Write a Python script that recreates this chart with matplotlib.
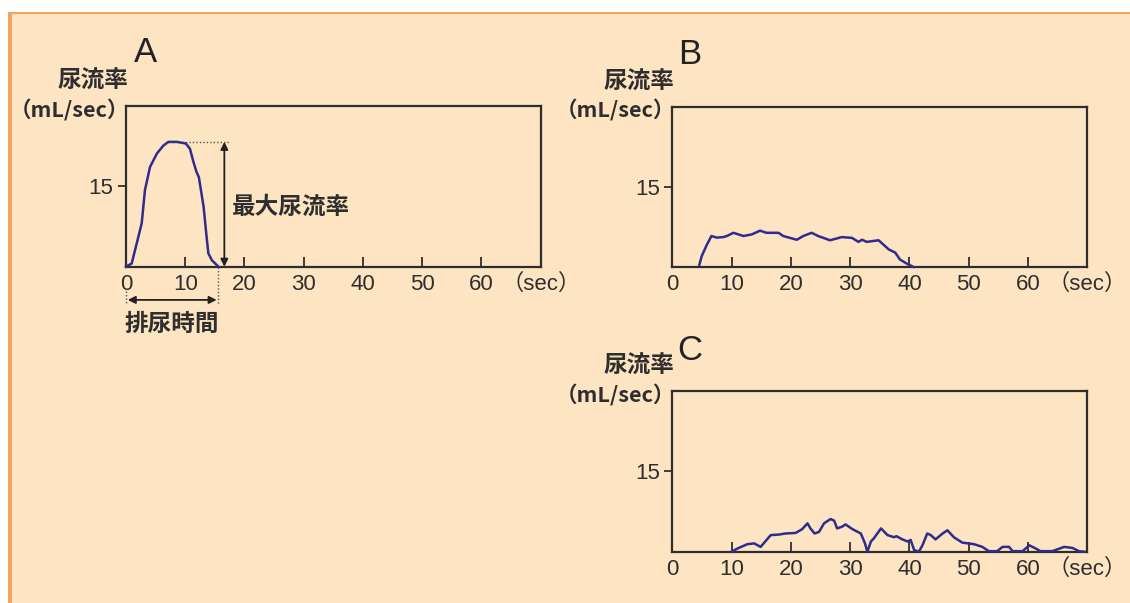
import matplotlib
matplotlib.use('Agg')
import matplotlib.pyplot as plt
from matplotlib.patches import Rectangle

W, H = 1130, 603

# ---------------- data ----------------
time_A = [0, 0.96, 1.8, 2.65, 3.2, 4.05, 5.2, 6.3, 7.15, 8.6, 10.1, 10.8, 11.4, 11.9,
          12.3, 13.1, 13.6, 13.9, 14.5, 15.6]
flow_A = [0, 0.6, 4.3, 8.1, 14.3, 18.6, 21.1, 22.6, 23.3, 23.3, 23.0, 22.0, 19.5, 17.7,
          16.7, 11.2, 5.6, 2.5, 1.2, 0]

time_B = [4.56, 4.95, 5.8, 6.6, 7.5, 8.6, 9.2, 10.3, 12.0, 13.4, 14.8, 15.9, 17.9, 18.7,
          21.0, 22.1, 23.5, 24.6, 26.6, 28.6, 30.3, 31.4, 32.0, 32.8, 34.8, 35.6, 36.5,
          37.6, 38.4, 39.6, 40.7]
flow_B = [0.4, 2.0, 4.1, 5.8, 5.5, 5.6, 5.8, 6.4, 5.8, 6.1, 6.8, 6.4, 6.4, 5.8,
          5.1, 5.8, 6.4, 5.8, 5.0, 5.6, 5.45, 4.7, 5.1, 4.7, 5.0, 4.2, 3.3,
          2.7, 1.4, 0.6, 0]

time_C = [10.0, 11.0, 12.65, 13.8, 14.9, 16.6, 18.0, 19.1, 20.8, 21.9, 22.8, 23.3, 24.0,
          24.75, 25.6, 26.7, 27.3, 27.8, 28.7, 29.2, 30.4, 31.8, 32.5, 32.9, 33.5, 34.0,
          35.2, 36.3, 37.4, 37.8, 38.8, 39.7, 40.2, 40.8, 41.6, 42.2, 43.0, 43.6, 44.4,
          45.6, 46.4, 47.5, 48.9, 50.9, 52.3, 53.4, 54.8, 55.7, 56.8, 57.4, 59.1, 60.2,
          61.3, 62.1, 64.1, 66.1, 67.5, 68.6, 69.5]
flow_C = [0, 0.6, 1.4, 1.55, 0.9, 3.1, 3.2, 3.4, 3.5, 4.2, 5.3, 4.35, 3.4,
          3.7, 5.3, 6.1, 5.8, 4.35, 4.7, 5.1, 4.2, 3.4, 1.55, 0, 1.9, 2.5,
          4.35, 3.1, 2.7, 2.9, 2.3, 1.9, 2.2, 0.3, 0, 1.2, 3.4, 3.1, 2.3,
          3.4, 4.0, 2.7, 1.7, 1.4, 0.9, 0.1, 0.1, 0.9, 0.9, 0.1, 0.1, 1.2,
          0.6, 0.1, 0.1, 0.9, 0.7, 0.1, 0]

xticks = [0, 10, 20, 30, 40, 50, 60, 70]
xticklabels = ['0', '10', '20', '30', '40', '50', '60', '（sec）']
yticks = [15]
yticklabels = ['15']
ylabel_1 = '尿流率'
ylabel_2 = '（mL/sec）'
panel_names = ['A', 'B', 'C']
label_qmax = '最大尿流率'
label_time = '排尿時間'

# ---------------- style ----------------
BEIGE = '#FDE4C2'
ORANGE = '#F5A35E'
INK = '#2E2E2E'
LINE = '#2E2C8C'

plt.rcParams['font.family'] = ['Liberation Sans', 'Noto Sans CJK JP']
CJK = ['Noto Sans CJK JP', 'Liberation Sans']

fig = plt.figure(figsize=(W / 100, H / 100), dpi=100)
fig.patch.set_facecolor('white')
fig.patches.append(Rectangle((8 / W, 0), 1 - 8 / W, 1 - 12 / H, transform=fig.transFigure,
                             facecolor=BEIGE, edgecolor='none', zorder=-10))
fig.patches.append(Rectangle((8 / W, 0), 4 / W, 1 - 12 / H, transform=fig.transFigure,
                             facecolor=ORANGE, edgecolor='none', zorder=-9))
fig.patches.append(Rectangle((8 / W, 1 - 14 / H), 1 - 8 / W, 2 / H, transform=fig.transFigure,
                             facecolor=ORANGE, edgecolor='none', zorder=-9))


def make_axes(x0, y0, x1, y1):
    ax = fig.add_axes([x0 / W, 1 - y1 / H, (x1 - x0) / W, (y1 - y0) / H])
    ax.set_facecolor('none')
    ax.set_xlim(0, 70)
    ax.set_ylim(0, 30)
    for s in ax.spines.values():
        s.set_linewidth(1.6)
        s.set_color(INK)
    ax.set_xticks(xticks)
    ax.set_xticklabels(xticklabels)
    ax.set_yticks(yticks)
    ax.set_yticklabels(yticklabels)
    ax.tick_params(axis='x', direction='in', length=7, width=1.3, color=INK,
                   labelsize=16, labelcolor=INK, pad=5)
    ax.tick_params(axis='y', direction='out', length=6, width=1.3, color=INK,
                   labelsize=16, labelcolor=INK, pad=3)
    # y-axis caption
    fig.text((x0 + 2) / W, 1 - (y0 - 25) / H, ylabel_1, ha='right', va='center',
             fontsize=17, fontweight='bold', color=INK, family=CJK)
    fig.text((x0 + 3) / W, 1 - (y0 + 4) / H, ylabel_2, ha='right', va='center',
             fontsize=15.5, fontweight='bold', color=INK, family=CJK)
    return ax


boxes = [(126, 106, 540.7, 266.7), (672.3, 106.7, 1087.3, 267), (672.3, 391, 1087.3, 551.7)]
letter_pos = [(146, 52), (690, 54), (690, 350)]
series = [(time_A, flow_A), (time_B, flow_B), (time_C, flow_C)]

axes = []
for box, name, lp, (t, f) in zip(boxes, panel_names, letter_pos, series):
    ax = make_axes(*box)
    ax.plot(t, f, color=LINE, lw=1.8, solid_joinstyle='round', clip_on=False, zorder=3)
    fig.text(lp[0] / W, 1 - lp[1] / H, name, ha='center', va='center', fontsize=25,
             color='#222222')
    axes.append(ax)

# ---------------- annotations in panel A ----------------
axA = axes[0]
qmax = max(flow_A)
t_peak = time_A[flow_A.index(qmax)]
t_end = time_A[-1]
x_arrow = t_end + 1.0

axA.plot([t_peak, x_arrow + 1.0], [qmax, qmax], ls=(0, (1, 1.5)), color='#555555', lw=1.0)
axA.annotate('', xy=(x_arrow, qmax), xytext=(x_arrow, 0),
             arrowprops=dict(arrowstyle='<|-|>', color='#222222', lw=1.3,
                             shrinkA=0, shrinkB=0, mutation_scale=11))
axA.plot([t_end, t_end], [0, -6.9], ls=(0, (1, 1.5)), color='#555555', lw=1.0, clip_on=False)
axA.plot([0, 0], [-4.6, -6.9], ls=(0, (1, 1.5)), color='#555555', lw=1.0, clip_on=False)
axA.annotate('', xy=(0.3, -6.2), xytext=(t_end - 0.3, -6.2), annotation_clip=False,
             arrowprops=dict(arrowstyle='<|-|>', color='#222222', lw=1.3,
                             shrinkA=0, shrinkB=0, mutation_scale=11))
axA.text(x_arrow + 1.3, 11.2, label_qmax, ha='left', va='center', fontsize=17,
         fontweight='bold', color=INK, family=CJK)
axA.text(t_end / 2, -10.6, label_time, ha='center', va='center', fontsize=17,
         fontweight='bold', color=INK, family=CJK, clip_on=False)

fig.savefig('out.png', dpi=100, facecolor=fig.get_facecolor())
